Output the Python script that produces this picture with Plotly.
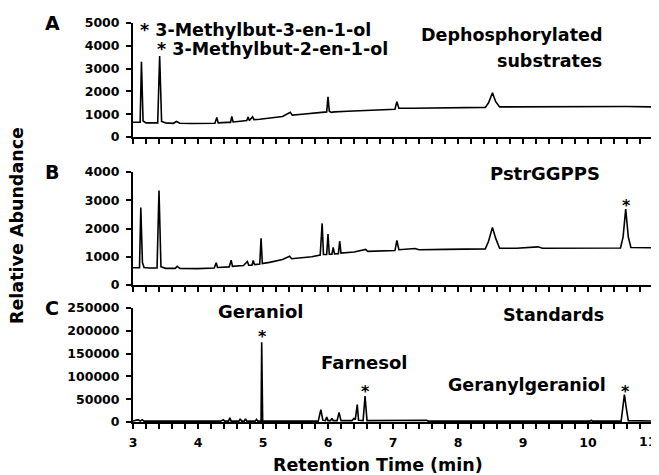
import plotly.graph_objects as go

# ---------------- data ----------------
time_a = [3.00, 3.11, 3.13, 3.155, 3.20, 3.30, 3.38, 3.41, 3.44, 3.50, 3.62, 3.67, 3.72, 3.90,
          4.10, 4.26, 4.29, 4.31, 4.45, 4.50, 4.52, 4.54, 4.65, 4.75, 4.77, 4.79, 4.84, 4.86,
          4.95, 5.10, 5.30, 5.42, 5.45, 5.60, 5.80, 5.98, 6.00, 6.02, 6.05, 6.10, 6.30, 6.50,
          6.80, 7.03, 7.06, 7.09, 7.30, 7.60, 7.90, 8.20, 8.42, 8.47, 8.53, 8.58, 8.64, 8.80,
          9.20, 9.60, 10.00, 10.40, 10.60, 11.00]
abund_a = [650, 650, 3300, 700, 620, 610, 620, 3550, 680, 620, 600, 680, 600, 590,
           590, 600, 860, 620, 640, 640, 900, 660, 690, 720, 880, 720, 890, 760,
           780, 830, 900, 1080, 960, 1000, 1060, 1100, 1760, 1130, 1080, 1100, 1130, 1160,
           1190, 1220, 1550, 1260, 1260, 1270, 1280, 1290, 1300, 1500, 1940, 1550, 1320, 1320,
           1330, 1340, 1330, 1330, 1340, 1320]

time_b = [3.00, 3.10, 3.12, 3.145, 3.17, 3.25, 3.37, 3.40, 3.43, 3.50, 3.65, 3.68, 3.72, 4.00,
          4.25, 4.28, 4.30, 4.48, 4.51, 4.53, 4.70, 4.76, 4.78, 4.83, 4.85, 4.87, 4.95, 4.97,
          4.99, 5.10, 5.30, 5.41, 5.44, 5.60, 5.75, 5.88, 5.91, 5.93, 5.98, 6.00, 6.02, 6.06,
          6.08, 6.10, 6.16, 6.18, 6.20, 6.40, 6.58, 6.61, 6.80, 7.03, 7.06, 7.09, 7.34, 7.40,
          7.80, 8.20, 8.42, 8.47, 8.53, 8.58, 8.64, 8.90, 9.23, 9.30, 9.80, 10.30, 10.50, 10.54,
          10.58, 10.62, 10.66, 11.00]
abund_b = [610, 615, 2740, 800, 620, 600, 600, 3340, 650, 590, 590, 660, 590, 580,
           600, 790, 620, 640, 880, 660, 690, 830, 700, 700, 870, 720, 740, 1650,
           760, 800, 900, 1020, 930, 960, 1000, 1060, 2180, 1080, 1080, 1800, 1090, 1090,
           1330, 1100, 1110, 1550, 1130, 1170, 1260, 1190, 1200, 1220, 1580, 1250, 1290, 1250,
           1260, 1270, 1280, 1550, 2040, 1650, 1300, 1300, 1350, 1300, 1300, 1310, 1310, 1700,
           2690, 1700, 1330, 1320]

time_c = [3.00, 3.08, 3.11, 3.14, 3.17, 4.35, 4.39, 4.41, 4.47, 4.49, 4.51, 4.63, 4.65, 4.67,
          4.71, 4.73, 4.75, 4.88, 4.90, 4.92, 4.97, 4.98, 4.995, 5.85, 5.89, 5.92, 5.96, 5.98,
          6.00, 6.04, 6.06, 6.08, 6.14, 6.17, 6.20, 6.37, 6.40, 6.42, 6.45, 6.47, 6.54, 6.57,
          6.60, 7.50, 7.52, 7.54, 10.03, 10.05, 10.07, 10.51, 10.53, 10.56, 10.59, 10.62, 11.00]
abund_c = [2000, 5000, 2000, 5000, 2000, 2000, 5000, 2000, 2000, 9000, 2000, 2000, 7000, 2000,
           2000, 7000, 2000, 2000, 6000, 2000, 2000, 175000, 2000, 2000, 27000, 4000, 3000, 11000,
           3000, 3000, 8000, 3000, 3000, 21000, 3000, 3000, 8000, 5000, 38000, 4000, 3000, 57000,
           3000, 2500, 4000, 2000, 2000, 4000, 2000, 2000, 30000, 60000, 30000, 3000, 2000]

x_range = [3, 11]
xticks = [3, 4, 5, 6, 7, 8, 9, 10, 11]
xtick_labels = ["3", "4", "5", "6", "7", "8", "9", "10", "11"]
yticks_a = [0, 1000, 2000, 3000, 4000, 5000]
yticks_b = [0, 1000, 2000, 3000, 4000]
yticks_c = [0, 50000, 100000, 150000, 200000, 250000]

# ---------------- layout ----------------
# page body has an 8px margin, so the figure is drawn 8px smaller and offset
OFF = 8
W, H = 659 - OFF, 475 - OFF
L_REF, R_REF, T_REF, B_REF = 133, 653, 23, 422   # plot area in reference pixels
ML, MT = L_REF - OFF, T_REF - OFF
MR = W - (R_REF - OFF)
MB = H - (B_REF - OFF)
PW, PH = R_REF - L_REF, B_REF - T_REF


def pp(xp, yp):
    return (xp - L_REF) / PW, (B_REF - yp) / PH


def dom(top_px, bot_px):
    return [pp(0, bot_px)[1], pp(0, top_px)[1]]


FONT = "DejaVu Sans"
line = dict(color="black", width=1.6)

fig = go.Figure()
fig.add_trace(go.Scatter(x=time_a, y=abund_a, mode="lines", line=line, xaxis="x", yaxis="y"))
fig.add_trace(go.Scatter(x=time_b, y=abund_b, mode="lines", line=line, xaxis="x2", yaxis="y2"))
fig.add_trace(go.Scatter(x=time_c, y=abund_c, mode="lines", line=line, xaxis="x3", yaxis="y3"))

tickfont = dict(family=FONT, size=12.5, color="black", weight="bold")
# last label ("11") sits at the page edge; it is drawn as an annotation so it is not clipped
shown_labels = xtick_labels[:-1] + [""]
xcommon = dict(range=x_range, showline=True, linecolor="black", linewidth=2, ticks="outside",
               ticklen=5, tickwidth=1.5, tickcolor="black", tickvals=xticks,
               ticktext=shown_labels,
               minor=dict(dtick=0.2, tick0=3, ticks="outside", ticklen=5, tickwidth=1.5,
                          tickcolor="black", showgrid=False),
               showgrid=False, zeroline=False, tickfont=tickfont, fixedrange=True,
               ticklabelstandoff=3)
ycommon = dict(showline=True, linecolor="black", linewidth=2, ticks="outside", ticklen=5,
               tickwidth=1.5, tickcolor="black", showgrid=False, zeroline=False,
               tickfont=tickfont, ticklabelstandoff=4, tickformat="d")

fig.update_layout(
    width=W, height=H, margin=dict(l=ML, r=MR, t=MT, b=MB, autoexpand=False),
    paper_bgcolor="white", plot_bgcolor="white", showlegend=False,
    xaxis=dict(xcommon, anchor="y", showticklabels=False),
    xaxis2=dict(xcommon, anchor="y2", matches="x", showticklabels=False),
    xaxis3=dict(xcommon, anchor="y3", matches="x", showticklabels=True),
    yaxis=dict(ycommon, domain=dom(23, 137), range=[0, 5000], tickvals=yticks_a, anchor="x"),
    yaxis2=dict(ycommon, domain=dom(172, 285), range=[0, 4000], tickvals=yticks_b, anchor="x2"),
    yaxis3=dict(ycommon, domain=dom(308, 422), range=[0, 250000], tickvals=yticks_c, anchor="x3"),
)

ann = []


def add(text, xp, yp, size=18, xanchor="center", angle=0, weight="bold"):
    x, y = pp(xp, yp)
    ann.append(dict(text=text, x=x, y=y, xref="paper", yref="paper", xanchor=xanchor,
                    yanchor="middle", showarrow=False, textangle=angle,
                    font=dict(family=FONT, size=size, color="black", weight=weight)))


add("A", 52, 23, 19)
add("B", 52, 172, 19)
add("C", 52, 308, 19)
add("* 3-Methylbut-3-en-1-ol", 138, 30, 17.5, "left")
add("* 3-Methylbut-2-en-1-ol", 155, 49, 17.5, "left")
add("Dephosphorylated", 604, 35, 17.5, "right")
add("substrates", 604, 61, 17.5, "right")
add("PstrGGPPS", 545, 173, 18)
add("*", 626, 205, 16)
add("Standards", 553, 315, 17.5)
add("Geraniol", 261, 311, 18)
add("*", 262, 336, 16)
add("Farnesol", 364, 362, 18)
add("*", 365, 391, 16)
add("Geranylgeraniol", 527, 385, 17.5)
add("*", 625, 391, 16)
add("Relative Abundance", 17, 226, 17.5, "center", -90)
add("Retention Time (min)", 378, 465, 17.5)
add(xtick_labels[-1], 658, 441, 12.5, "right")

fig.update_layout(annotations=ann)
fig.write_html("out.html")
